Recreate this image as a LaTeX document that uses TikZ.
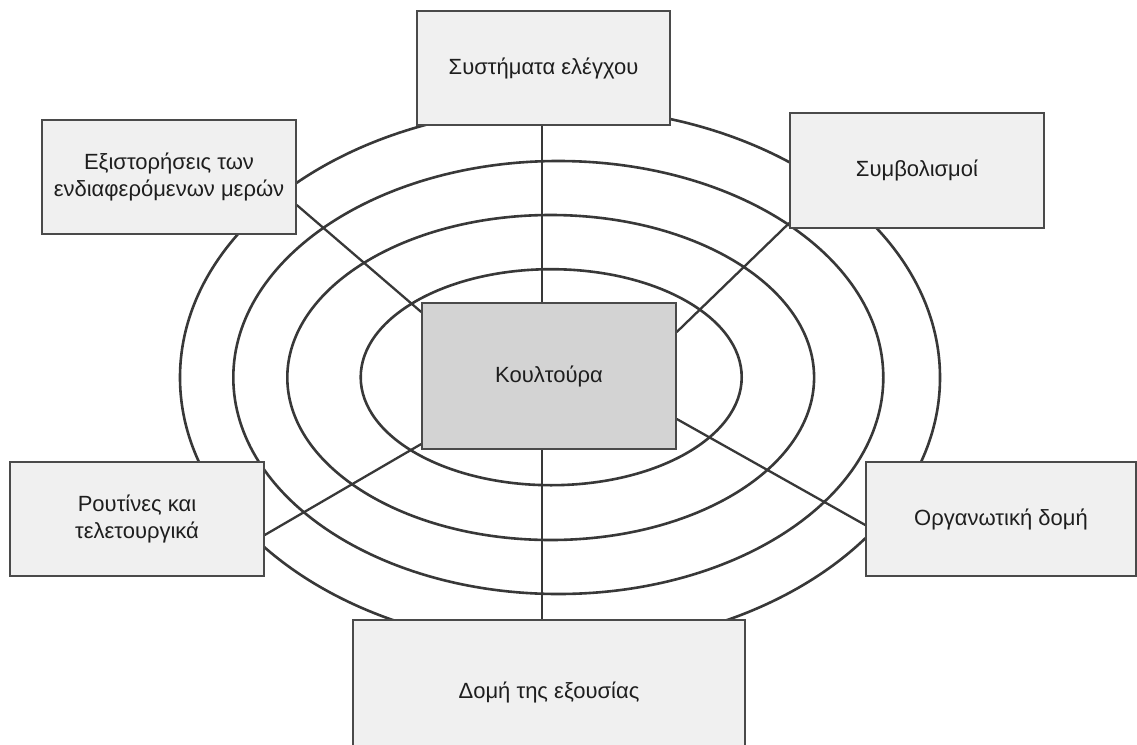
\documentclass[tikz,border=0pt]{standalone}
\usepackage{fontspec}
\setmainfont{Liberation Sans}
\usetikzlibrary{backgrounds}
\definecolor{boxfill}{HTML}{F0F0F0}
\definecolor{corefill}{HTML}{D3D3D3}
\definecolor{boxline}{HTML}{4A4A4A}
\definecolor{ringline}{HTML}{383838}
\definecolor{labeltext}{HTML}{1E1E1E}
\begin{document}
\begin{tikzpicture}[x=1pt,y=-1pt,
  box/.style={draw=boxline, line width=1.5pt, fill=boxfill, align=center,
    inner sep=0pt, text=labeltext, font=\fontsize{22}{27.5}\selectfont},
  corebox/.style={box, fill=corefill},
  ring/.style={draw=ringline, line width=2.6pt},
  spoke/.style={draw=ringline, line width=2.3pt}]
\useasboundingbox (0,0) rectangle (1137,744);

% the seven boxes
\node[box, minimum width=253pt, minimum height=114pt] (ctrl) at (543.5,68) {Συστήματα ελέγχου};
\node[box, minimum width=254pt, minimum height=114pt] (stories) at (169,177) {Εξιστορήσεις των\\ενδιαφερόμενων μερών};
\node[box, minimum width=254pt, minimum height=115pt] (symb) at (917,170.5) {Συμβολισμοί};
\node[corebox, minimum width=254pt, minimum height=146pt] (core) at (549,376) {Κουλτούρα};
\node[box, minimum width=254pt, minimum height=114pt] (rout) at (137,519) {Ρουτίνες και\\τελετουργικά};
\node[box, minimum width=270pt, minimum height=114pt] (org) at (1001,519) {Οργανωτική δομή};
\node[box, minimum width=392pt, minimum height=144pt] (power) at (549,692) {Δομή της εξουσίας};

\coordinate (vx) at (542,0);

\begin{scope}[on background layer]
  \fill[white] (0,0) rectangle (1137,744);
  % concentric rings
  \draw[ring] (551.2,377.2) ellipse [x radius=190.5pt, y radius=108pt];
  \draw[ring] (550.7,377.5) ellipse [x radius=263.4pt, y radius=162.5pt];
  \draw[ring] (558.3,377.5) ellipse [x radius=325pt, y radius=216.5pt];
  \draw[ring] (560,377.5) ellipse [x radius=380pt, y radius=270pt];
  % spokes from the core to each box
  \draw[spoke] (ctrl.south -| vx) -- (core.north -| vx);
  \draw[spoke] (core.south -| vx) -- (power.north -| vx);
  \draw[spoke] ([yshift=-28pt]stories.east) -- ([yshift=64pt]core.west);
  \draw[spoke] ([yshift=44pt]core.east) -- ([yshift=-52.5pt]symb.west);
  \draw[spoke] ([yshift=-68pt]core.west) -- ([yshift=-16pt]rout.east);
  \draw[spoke] ([yshift=-43pt]core.east) -- ([yshift=-6pt]org.west);
\end{scope}
\end{tikzpicture}
\end{document}
